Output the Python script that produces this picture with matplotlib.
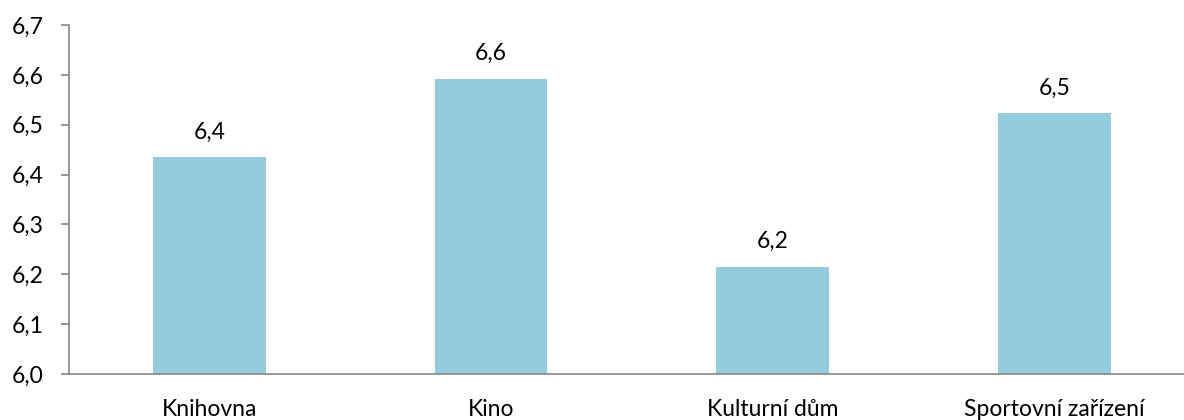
import matplotlib
matplotlib.use("Agg")
import matplotlib.pyplot as plt
import numpy as np

categories = ["Knihovna", "Kino", "Kulturní dům", "Sportovní zařízení"]
values = [6.435, 6.592, 6.215, 6.523]
labels = ["6,4", "6,6", "6,2", "6,5"]
yticks = [6.0, 6.1, 6.2, 6.3, 6.4, 6.5, 6.6, 6.7]
ytick_labels = ["6,0", "6,1", "6,2", "6,3", "6,4", "6,5", "6,6", "6,7"]

plt.rcParams['font.family'] = ['Lato', 'DejaVu Sans']
FS = 16.5

fig = plt.figure(figsize=(11.84, 4.2), dpi=100)
ax = fig.add_axes([68.5/1184, 1 - 374/420, (1195 - 68.5)/1184, (374 - 25)/420])

x = np.arange(len(categories))
ax.bar(x, values, width=0.40, color="#93CDDD", bottom=0)
ax.set_ylim(6.0, 6.7)
ax.set_xlim(-0.5, len(categories) - 0.5)

for xi, v, lab in zip(x, values, labels):
    ax.annotate(lab, (xi, v), xytext=(0, 13.5), textcoords="offset points",
                ha="center", va="baseline", fontsize=FS, color="#000000")

ax.set_yticks(yticks)
ax.set_yticklabels(ytick_labels, fontsize=FS)
ax.set_xticks(x)
ax.set_xticklabels(categories, fontsize=FS)

for s in ["top", "right"]:
    ax.spines[s].set_visible(False)
for s in ["left", "bottom"]:
    ax.spines[s].set_color("#868686")
    ax.spines[s].set_linewidth(1.2)
ax.tick_params(axis="y", direction="out", length=6, color="#868686", width=1.2, pad=12)
ax.tick_params(axis="x", length=0, pad=18)

fig.savefig("out.png", dpi=100)
